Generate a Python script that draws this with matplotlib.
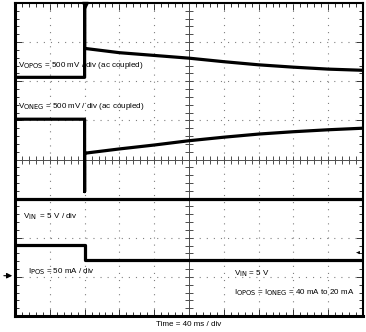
# -*- coding: utf-8 -*-
# scope capture: VOPOS / VONEG response to a load step (40 mA -> 20 mA)

import numpy as np
import matplotlib
matplotlib.use("Agg")
import matplotlib.pyplot as plt
import matplotlib._mathtext as mathtext_mod

FONT = ['Liberation Sans Narrow', 'Liberation Sans', 'DejaVu Sans']
plt.rcParams['font.family'] = FONT
plt.rcParams['mathtext.fontset'] = 'custom'
plt.rcParams['mathtext.rm'] = FONT[0]
plt.rcParams['lines.scale_dashes'] = False
mathtext_mod.SHRINK_FACTOR = 0.82  # subscripts on the scope labels are fairly big

# screen is 10 x 8 divisions, values in divisions
vopos_t = [0, 2.0, 2.0, 2.0, 3, 4, 5, 6, 7, 8, 9, 10]
vopos_v = [2.10, 2.10, 3.95, 2.84, 2.73, 2.66, 2.59, 2.50, 2.42, 2.36, 2.31, 2.28]

voneg_t = [0, 2.0, 2.0, 2.0, 3, 4, 5, 6, 7, 8, 9, 10]
voneg_v = [1.03, 1.03, -0.82, 0.16, 0.27, 0.37, 0.48, 0.57, 0.65, 0.71, 0.76, 0.80]

vin_t = [0, 10]
vin_v = [-1.0, -1.0]

ipos_t = [0, 2.0, 2.0, 10]
ipos_v = [-2.18, -2.18, -2.56, -2.56]


def main():
    fig = plt.figure(figsize=(3.66, 3.32), dpi=100)
    ax = fig.add_axes([15 / 366, 16 / 332, 348 / 366, 313 / 332])
    ax.set_xlim(0, 10)
    ax.set_ylim(-4, 4)

    # dotted graticule
    for gx in range(1, 10):
        if gx != 5:
            ax.axvline(gx, color='0.5', lw=0.8, ls=(0, (0.8, 4.3)))
    for gy in range(-3, 4):
        if gy != 0:
            ax.axhline(gy, color='0.5', lw=0.8, ls=(0, (0.8, 4.3)))

    # centre cross with ticks
    ax.axvline(5, color='0.3', lw=0.7)
    ax.axhline(0, color='0.3', lw=0.7)
    mt = np.arange(0, 10.01, 0.2)
    ax.plot(mt, np.zeros_like(mt), ls='none', marker='|', ms=6, mew=0.7, color='0.3')
    mv = np.arange(-4, 4.01, 0.2)
    ax.plot(np.full_like(mv, 5), mv, ls='none', marker='_', ms=6, mew=0.7, color='0.3')

    # traces
    ax.plot(vopos_t, vopos_v, color='black', lw=2.3, solid_joinstyle='round')
    ax.plot(voneg_t, voneg_v, color='black', lw=2.3, solid_joinstyle='round')
    ax.plot(vin_t, vin_v, color='black', lw=2.3)
    ax.plot(ipos_t, ipos_v, color='black', lw=2.3)

    # frame and edge ticks
    for side in ['top', 'right']:
        ax.spines[side].set_linewidth(1.5)
    for side in ['left', 'bottom']:
        ax.spines[side].set_linewidth(2.2)
    ax.set_xticks(range(0, 11))
    ax.set_yticks(range(-4, 5))
    ax.set_xticks(np.arange(0, 10.01, 0.2), minor=True)
    ax.set_yticks(np.arange(-4, 4.01, 0.2), minor=True)
    ax.tick_params(which='both', direction='in', top=True, right=True,
                   labelbottom=False, labelleft=False, color='0.2', width=0.7)
    ax.tick_params(which='major', length=5)
    ax.tick_params(which='minor', length=3)

    # markers: trigger, ground reference, trigger level
    ax.plot([2.0], [3.95], marker='v', ms=4, color='black', clip_on=False)
    ax.annotate('', xy=(0.0, -2.97), xytext=(-0.4, -2.97),
                arrowprops=dict(arrowstyle='-|>', color='black', lw=0.8,
                                mutation_scale=8), annotation_clip=False)
    ax.annotate('', xy=(9.73, -2.38), xytext=(9.9, -2.38),
                arrowprops=dict(arrowstyle='-|>', color='black', lw=0.6,
                                mutation_scale=4), annotation_clip=False)

    fs = 5.8
    ax.text(0.08, 2.40, r'V$_{\mathrm{OPOS}}$ = 500 mV / div (ac coupled)', fontsize=fs, va='center')
    ax.text(0.08, 1.36, r'V$_{\mathrm{ONEG}}$ = 500 mV / div (ac coupled)', fontsize=fs, va='center')
    ax.text(0.22, -1.46, r'V$_{\mathrm{IN}}$  = 5 V / div', fontsize=fs, va='center')
    ax.text(0.37, -2.88, r'I$_{\mathrm{POS}}$ = 50 mA / div', fontsize=fs, va='center')
    ax.text(6.28, -2.93, r'V$_{\mathrm{IN}}$ = 5 V', fontsize=fs, va='center')
    ax.text(6.28, -3.41, r'I$_{\mathrm{OPOS}}$ = I$_{\mathrm{ONEG}}$ = 40 mA to 20 mA', fontsize=fs, va='center')
    fig.text(189 / 366, 1 - 325 / 332, 'Time = 40 ms / div', fontsize=fs, ha='center', va='center')

    fig.savefig('out.png', dpi=100)


if __name__ == "__main__":
    main()
